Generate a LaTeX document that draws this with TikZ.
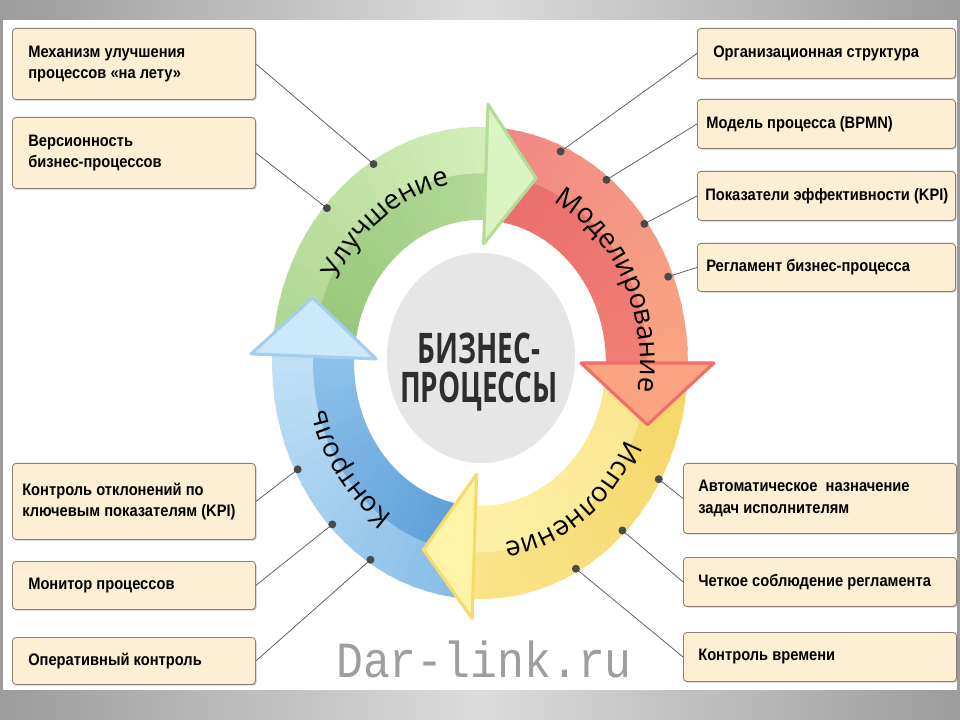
\documentclass[tikz,border=0pt]{standalone}
\usepackage{fontspec}
\usepackage{graphicx}
\setmainfont{Liberation Sans}
\newfontfamily\boxfont[FakeStretch=0.885]{Liberation Sans}
\newfontfamily\ringfont{Open Sans}
\newfontfamily\centerfont[FakeStretch=0.66]{Open Sans}
\newfontfamily\wmfont[FakeStretch=0.885]{Liberation Mono}
\usetikzlibrary{decorations.text,shadows}

\definecolor{boxfill}{HTML}{FCEFD3}
\definecolor{boxline}{HTML}{8A8274}
\definecolor{connc}{HTML}{5E5E5E}
\definecolor{dotc}{HTML}{4A4A4A}
\definecolor{diskc}{HTML}{E6E6E6}
\definecolor{bandedge}{HTML}{9C9C9C}
\definecolor{bandmid}{HTML}{DCDCDC}
% green
\definecolor{gto}{HTML}{ADD690}
\definecolor{gti}{HTML}{96C679}
\definecolor{gho}{HTML}{D3EEB9}
\definecolor{ghi}{HTML}{B2D997}
\definecolor{ghf}{HTML}{DAF4C2}
\definecolor{ghr}{HTML}{B5DC97}
% red
\definecolor{rto}{HTML}{F08884}
\definecolor{rti}{HTML}{E96E6D}
\definecolor{rho}{HTML}{F9A583}
\definecolor{rhi}{HTML}{F07E74}
\definecolor{rhf}{HTML}{F9A381}
\definecolor{rhr}{HTML}{EF6E6A}
% yellow
\definecolor{yto}{HTML}{F5D768}
\definecolor{yti}{HTML}{F9E58D}
\definecolor{yho}{HTML}{FAE389}
\definecolor{yhi}{HTML}{FEF0A6}
\definecolor{yhf}{HTML}{FFF4A6}
\definecolor{yhr}{HTML}{F5DA6D}
% blue
\definecolor{bto}{HTML}{86BCE6}
\definecolor{bti}{HTML}{5C9DD5}
\definecolor{bho}{HTML}{BFE0F7}
\definecolor{bhi}{HTML}{8CC1EA}
\definecolor{bhf}{HTML}{CDE8FB}
\definecolor{bhr}{HTML}{A2CEF0}

\begin{document}
\begin{tikzpicture}[x=0.025cm,y=-0.025cm,
  infobox/.style={draw=boxline, fill=boxfill, rounded corners=2.5pt, line width=0.6pt,
    anchor=north west, inner sep=0pt,
    drop shadow={shadow xshift=0.8pt, shadow yshift=-0.9pt, opacity=0.35, fill=black!60}},
  boxtext/.style={font=\boxfont\bfseries\fontsize{11.8}{15}\selectfont, align=left,
    anchor=west, inner sep=0pt, text=black},
  conn/.style={draw=connc, line width=0.55pt},
  dot/.style={fill=dotc},
  headstyle/.style={line width=2.2pt, line join=round}]

\useasboundingbox (0,0) rectangle (960,720);
\fill[white] (0,0) rectangle (960,720);
\shade[left color=bandedge, right color=bandedge, middle color=bandmid] (0,0) rectangle (960,20);
\shade[left color=bandedge, right color=bandedge, middle color=bandmid] (0,690) rectangle (960,720);
\fill[bandedge] (0,20) rectangle (3,690);
\fill[bandedge] (957,20) rectangle (960,690);

% centre disk
\fill[diskc] (481,358) ellipse [x radius=2.35cm, y radius=2.625cm];

% ring
\begin{scope}[shift={(480,363)}]
\begin{scope}[x=0.025cm,y=0.0283775cm]
\foreach \ta/\hb/\tcO/\tcI/\hcO/\hcI in {176/88/gto/gti/gho/ghi, 86/0/rto/rti/rho/rhi, -2/-92/yto/yti/yho/yhi, 266/178/bto/bti/bho/bhi}{
  \foreach \i in {0,...,23}{
    \pgfmathsetmacro\sa{\ta-(\ta-\hb)*\i/24+0.4}
    \pgfmathsetmacro\sb{\ta-(\ta-\hb)*(\i+1)/24-0.4}
    \pgfmathtruncatemacro\pp{100*\i/23}
    \colorlet{sliceO}{\hcO!\pp!\tcO}
    \colorlet{sliceI}{\hcI!\pp!\tcI}
    \fill[sliceO] (\sa:208) -- (\sb:208) -- (\sb:166) -- (\sa:166) -- cycle;
    \fill[sliceI] (\sa:167) -- (\sb:167) -- (\sb:126) -- (\sa:126) -- cycle;
  }
}
% heads
\filldraw[headstyle, fill=ghf, draw=ghr] (88:228) -- (71:172) -- (88:105) -- cycle;
\filldraw[headstyle, fill=rhf, draw=rhr] (0:234) -- (-18:176) -- (0:101) -- cycle;
\filldraw[headstyle, fill=yhf, draw=yhr] (268:225) -- (251:174) -- (268:98) -- cycle;
\filldraw[headstyle, fill=bhf, draw=bhr] (178:229) -- (161:177) -- (178:104) -- cycle;

% ring labels
\path[decorate, decoration={text along path, text align=center,
  text={|\ringfont\fontsize{19.5}{21}\selectfont|Улучшение}}]
  plot[domain=0:1, samples=80] ({185-120*\x}:160);
\path[decorate, decoration={text along path, text align=center,
  text={|\ringfont\fontsize{19.5}{21}\selectfont|Моделирование}}]
  plot[domain=0:1, samples=80] ({88-120*\x}:160);
\path[decorate, decoration={text along path, text align=center,
  text={|\ringfont\fontsize{19.5}{21}\selectfont|Исполнение}}]
  plot[domain=0:1, samples=80] ({5-120*\x}:160);
\path[decorate, decoration={text along path, text align=center,
  text={|\ringfont\fontsize{19.5}{21}\selectfont|Контроль}}]
  plot[domain=0:1, samples=80] ({278-120*\x}:160);

% dot positions
\coordinate (dL1) at (121.3:205);
\coordinate (dL2) at (138.3:205);
\coordinate (dL3) at (207.2:205);
\coordinate (dL4) at (223.9:205);
\coordinate (dL5) at (237.7:205);
\coordinate (dR1) at (66.6:203);
\coordinate (dR2) at (51.9:205);
\coordinate (dR3) at (36.7:205);
\coordinate (dR4) at (22.0:203);
\coordinate (dR5) at (-29.8:206);
\coordinate (dR6) at (-46.0:205);
\coordinate (dR7) at (-62.1:205);
\end{scope}
\end{scope}

% centre text
\node[font=\centerfont\bfseries\fontsize{30}{27.7}\selectfont, align=center, text=black!82] (ctr) at (479,372) {БИЗНЕС-\\ПРОЦЕССЫ};

% left boxes
\node[infobox, minimum width=6.075cm, minimum height=1.775cm] (l1) at (12,28) {};
\node[boxtext] (l1t) at ([xshift=0.4cm]l1.west) {Механизм улучшения\\процессов «на лету»};
\node[infobox, minimum width=6.075cm, minimum height=1.775cm] (l2) at (12,117) {};
\node[boxtext] (l2t) at ([xshift=0.4cm]l2.west) {Версионность\\бизнес-процессов};
\node[infobox, minimum width=6.075cm, minimum height=1.9cm] (l3) at (12,463) {};
\node[boxtext] (l3t) at ([xshift=0.25cm]l3.west) {Контроль отклонений по\\ключевым показателям (KPI)};
\node[infobox, minimum width=6.075cm, minimum height=1.2cm] (l4) at (12,561) {};
\node[boxtext] (l4t) at ([xshift=0.4cm]l4.west) {Монитор процессов};
\node[infobox, minimum width=6.075cm, minimum height=1.175cm] (l5) at (12,637) {};
\node[boxtext] (l5t) at ([xshift=0.4cm]l5.west) {Оперативный контроль};

% right boxes
\node[infobox, minimum width=6.45cm, minimum height=1.25cm] (r1) at (697,28) {};
\node[boxtext] (r1t) at ([xshift=0.4cm]r1.west) {Организационная структура};
\node[infobox, minimum width=6.45cm, minimum height=1.225cm] (r2) at (697,99) {};
\node[boxtext] (r2t) at ([xshift=0.225cm]r2.west) {Модель процесса (BPMN)};
\node[infobox, minimum width=6.45cm, minimum height=1.225cm] (r3) at (697,171) {};
\node[boxtext] (r3t) at ([xshift=0.2cm]r3.west) {Показатели эффективности (KPI)};
\node[infobox, minimum width=6.45cm, minimum height=1.2cm] (r4) at (697,243) {};
\node[boxtext] (r4t) at ([xshift=0.225cm]r4.west) {Регламент бизнес-процесса};
\node[infobox, minimum width=6.825cm, minimum height=1.75cm] (r5) at (683,463) {};
\node[boxtext] (r5t) at ([xshift=0.375cm]r5.west) {Автоматическое\ \ назначение\\задач исполнителям};
\node[infobox, minimum width=6.825cm, minimum height=1.225cm] (r6) at (683,557) {};
\node[boxtext] (r6t) at ([xshift=0.375cm]r6.west) {Четкое соблюдение регламента};
\node[infobox, minimum width=6.825cm, minimum height=1.225cm] (r7) at (683,632) {};
\node[boxtext] (r7t) at ([xshift=0.375cm]r7.west) {Контроль времени};

% connectors
\draw[conn] (l1.east) -- (dL1);
\draw[conn] (l2.east) -- (dL2);
\draw[conn] (l3.east) -- (dL3);
\draw[conn] (l4.east) -- (dL4);
\draw[conn] (l5.east) -- (dL5);
\draw[conn] (r1.west) -- (dR1);
\draw[conn] (r2.west) -- (dR2);
\draw[conn] (r3.west) -- (dR3);
\draw[conn] (r4.west) -- (dR4);
\draw[conn] (r5.west) -- (dR5);
\draw[conn] (r6.west) -- (dR6);
\draw[conn] (r7.west) -- (dR7);
\foreach \d in {dL1,dL2,dL3,dL4,dL5,dR1,dR2,dR3,dR4,dR5,dR6,dR7}
  \fill[dot] (\d) circle[radius=0.1cm];

% watermark
\node[font=\wmfont\fontsize{36}{36}\selectfont, text=black!38, anchor=base] (wm) at (484,677) {Dar-link.ru};
\end{tikzpicture}
\end{document}
